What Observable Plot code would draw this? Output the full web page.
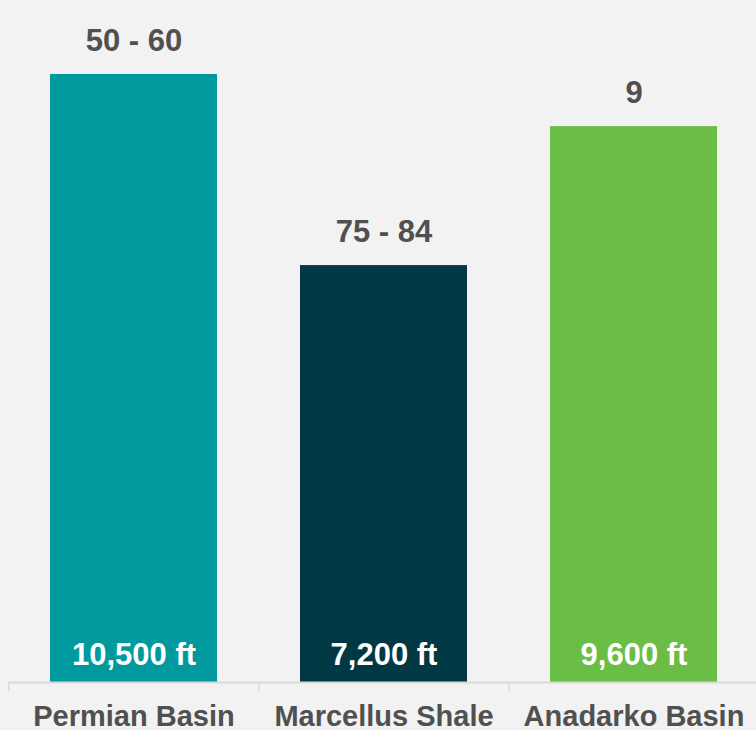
<!DOCTYPE html>
<html>
<head>
<meta charset="utf-8">
<script src="https://cdn.jsdelivr.net/npm/d3@7"></script>
<script src="https://cdn.jsdelivr.net/npm/@observablehq/plot@0.6"></script>
<style>
  html, body { margin: 0; padding: 0; background: #f2f2f2; }
  #chart svg { display: block; }
</style>
</head>
<body>
<div id="chart"></div>
<script>
const basins = ["Permian Basin", "Marcellus Shale", "Anadarko Basin"];
const depths = [10500, 7200, 9600];
const depthLabels = ["10,500 ft", "7,200 ft", "9,600 ft"];
const topLabels = ["50 - 60", "75 - 84", "9"];
const colors = ["#009a9e", "#003843", "#6abd45"];

const data = basins.map((b, i) => ({basin: b, depth: depths[i], depthLabel: depthLabels[i], top: topLabels[i]}));

const xRange = [8, 759];
const step = (xRange[1] - xRange[0]) / basins.length;
const font = "'Liberation Sans', Arial, sans-serif";
const textColor = "#505050";

const chart = Plot.plot({
  width: 756,
  height: 730,
  marginLeft: 8,
  marginRight: 0,
  marginTop: 0,
  marginBottom: 0,
  style: {background: "#f2f2f2", fontFamily: font},
  x: {domain: basins, range: xRange, paddingInner: 0.33, paddingOuter: 0.165, axis: null},
  y: {domain: [0, 10500], range: [682, 74], axis: null},
  color: {domain: basins, range: colors},
  marks: [
    Plot.barY(data, {x: "basin", y: "depth", fill: "basin"}),
    Plot.ruleY([0], {stroke: "#d9d9d9", strokeWidth: 2}),
    Plot.axisX({domain: basins, tickSize: 9, text: null, label: null, dx: -step / 2, stroke: "#d9d9d9", strokeWidth: 1.5, anchor: "bottom", y: 0}),
    Plot.text(data, {x: "basin", y: "depth", text: "top", lineAnchor: "bottom", dy: -24, fontSize: 31, fontWeight: "bold", fill: textColor}),
    Plot.text(data, {x: "basin", y: 0, text: "depthLabel", lineAnchor: "bottom", dy: -18, fontSize: 31, fontWeight: "bold", fill: "white"}),
    Plot.text(data, {x: "basin", y: 0, text: "basin", lineAnchor: "bottom", dy: 43, fontSize: 29, fontWeight: "bold", fill: textColor})
  ]
});
document.getElementById("chart").append(chart);
</script>
</body>
</html>
